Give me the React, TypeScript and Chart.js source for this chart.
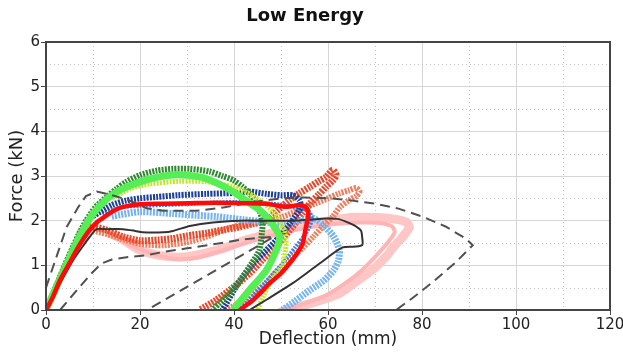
import React, { useEffect, useRef } from "react";
import { Chart, registerables } from "chart.js";

Chart.register(...registerables);

const FONT = "'DejaVu Sans', sans-serif";

// Axis ticks
const xTicks = [0, 20, 40, 60, 80, 100, 120];
const yTicks = [0, 1, 2, 3, 4, 5, 6];
const xMinor = [10, 30, 50, 70, 90, 110];
const yMinor = [0.5, 1.5, 2.5, 3.5, 4.5, 5.5];

// Thick red curve
const redX = [0, 1.5, 3, 5, 6.5, 8, 9.3, 11, 12.9, 14.5, 16.4, 20, 25, 30.6, 36, 41.2, 46.9, 49.5, 50.9, 52.5, 53.8, 55.2, 55.8, 55.7, 55.2, 54.6, 53.3, 51.8, 49.8, 47.6, 45.8, 44, 42.5, 41.2];
const redY = [0, 0.3, 0.67, 1.05, 1.34, 1.6, 1.79, 1.98, 2.12, 2.23, 2.31, 2.37, 2.38, 2.39, 2.4, 2.39, 2.38, 2.33, 2.31, 2.33, 2.35, 2.31, 2.2, 2.05, 1.8, 1.49, 1.25, 1.04, 0.8, 0.6, 0.4, 0.22, 0.1, 0];

// Solid dark curve
const blackX = [0, 1.5, 3, 5.8, 8, 9.3, 10.8, 13, 16.4, 19, 20.5, 25, 27, 30.6, 35.5, 41.2, 46, 52.5, 56, 59.6, 62, 63.8, 65.5, 67, 67.3, 67.3, 66, 63.1, 58.2, 52.5, 46.9, 43.3];
const blackY = [0, 0.3, 0.6, 1.12, 1.45, 1.64, 1.81, 1.81, 1.81, 1.77, 1.74, 1.74, 1.77, 1.88, 1.96, 2.0, 2.0, 2.0, 2.02, 2.05, 2.04, 1.98, 1.9, 1.78, 1.6, 1.46, 1.42, 1.4, 1.04, 0.6, 0.23, 0];

// Dashed corridor (upper)
const upperX = [0, 2, 4.4, 6.9, 8.5, 10.8, 13, 15, 17.5, 21.4, 25, 32, 38, 45, 50, 55, 60.3, 64.5, 70, 75, 80.1, 85, 89.3, 90.8, 87, 82, 78, 74.5];
const upperY = [0.5, 1.12, 1.86, 2.31, 2.55, 2.65, 2.6, 2.54, 2.46, 2.28, 2.22, 2.22, 2.3, 2.43, 2.5, 2.52, 2.5, 2.46, 2.38, 2.27, 2.09, 1.87, 1.6, 1.45, 1.05, 0.6, 0.27, 0];

// Dashed corridor (lower)
const lowerX = [3, 5, 7.2, 9.5, 11.8, 14, 17.8, 21, 25, 30, 35, 41.2, 45, 48.5, 21.5];
const lowerY = [0, 0.25, 0.52, 0.8, 1.04, 1.13, 1.19, 1.22, 1.3, 1.38, 1.46, 1.57, 1.61, 1.64, 0];

// Bright green
const greenX = [0, 3, 6, 7.9, 10, 12.9, 16, 20, 24, 28, 32.7, 36, 39.8, 43, 45.4, 47.5, 49, 49.7, 49.5, 49, 46.9, 43.3, 41.5, 39.8];
const greenY = [0, 0.7, 1.4, 1.79, 2.15, 2.48, 2.7, 2.87, 2.98, 3.03, 2.98, 2.86, 2.65, 2.42, 2.24, 2.02, 1.79, 1.64, 1.5, 1.34, 0.89, 0.45, 0.22, 0];

// Yellow-green
const yellowX = [14, 18, 22, 28.4, 34.1, 39.8, 43, 45.4, 47.8, 49.7, 50.8, 51.1, 50.4, 49, 47.6, 46.2, 45];
const yellowY = [2.5, 2.72, 2.82, 2.88, 2.87, 2.76, 2.62, 2.46, 2.25, 2.01, 1.75, 1.49, 1.04, 0.8, 0.6, 0.3, 0];

// Dark green
const dkGreenX = [0, 4, 7, 8.6, 10.5, 12.9, 15, 17.1, 20, 23.5, 27, 30.6, 34.8, 37.5, 39.8, 41.8, 43.3, 44.6, 45.4, 46.1, 46.0, 45.4, 43.8, 41.9, 39.5, 36.9, 35.5];
const dkGreenY = [0, 1.0, 1.7, 2.01, 2.3, 2.53, 2.71, 2.87, 3.02, 3.12, 3.16, 3.16, 3.1, 3.0, 2.91, 2.76, 2.61, 2.43, 2.24, 1.95, 1.79, 1.34, 1.05, 0.75, 0.42, 0.15, 0];

// Navy
const navyX = [10, 14, 17, 20, 23.5, 28, 34.1, 40, 43.3, 47, 50, 52.5, 53.9, 54.2, 53.9, 52, 49.5, 46.9, 44.2, 41.9, 40, 38.4, 37.5];
const navyY = [2.1, 2.35, 2.45, 2.5, 2.53, 2.57, 2.6, 2.62, 2.65, 2.6, 2.57, 2.57, 2.46, 2.35, 2.24, 1.95, 1.62, 1.34, 1.05, 0.75, 0.45, 0.15, 0];

// Medium blue
const blueX = [12, 16, 20, 25, 30, 35, 40, 45, 50, 53, 56, 56.5, 55.5, 53, 50, 46.5, 43, 41];
const blueY = [2.15, 2.3, 2.33, 2.35, 2.37, 2.4, 2.42, 2.4, 2.36, 2.3, 2.2, 2.0, 1.75, 1.4, 1.0, 0.6, 0.2, 0];

// Light blue
const ltBlueX = [14, 20, 27, 32, 36.2, 42, 46, 50.4, 54, 56.9, 59, 61.2, 62.4, 62.2, 61.2, 59, 56.2, 53, 50.4];
const ltBlueY = [2.1, 2.2, 2.16, 2.12, 2.09, 2.02, 1.98, 1.94, 2.0, 2.05, 1.9, 1.64, 1.34, 1.1, 0.89, 0.65, 0.45, 0.2, 0];

// Red-orange
const orangeX = [7, 9.3, 12.9, 16.4, 20, 24, 27, 30, 34.1, 38, 41.2, 44, 46.9, 49.5, 51.8, 54, 56.2, 58, 59.6, 61, 61.7, 61, 59.6, 58, 56.2, 54.5, 52.5, 49, 46, 43.3, 40, 36.2, 32.7];
const orangeY = [1.7, 1.86, 1.79, 1.64, 1.55, 1.57, 1.6, 1.66, 1.72, 1.8, 1.86, 1.93, 2.01, 2.25, 2.46, 2.62, 2.76, 2.88, 2.98, 3.13, 3.02, 2.9, 2.76, 2.58, 2.39, 2.15, 1.87, 1.43, 1.12, 0.82, 0.52, 0.22, 0];

// Salmon
const salmonX = [10, 13, 16, 20, 25, 30, 34.1, 39.8, 45, 50.4, 54, 57.4, 60, 62.4, 64.5, 66, 66.7, 66, 64.5, 62.5, 61, 59, 56.9, 54.5, 51.8, 49, 46.9, 43.5, 40.5, 38];
const salmonY = [1.78, 1.7, 1.6, 1.48, 1.45, 1.52, 1.64, 1.86, 1.96, 2.09, 2.25, 2.39, 2.5, 2.61, 2.68, 2.73, 2.65, 2.55, 2.46, 2.3, 2.09, 1.88, 1.64, 1.38, 1.12, 0.86, 0.6, 0.35, 0.12, 0];

// Pink (outer loop)
const pinkX = [13, 16.4, 20, 25.6, 30.6, 37.7, 42, 48, 54, 60.3, 65, 70.9, 74.5, 76.6, 77.3, 75.9, 74, 72.3, 70, 67.4, 65, 62.4, 58, 54, 50.5];
const pinkY = [1.75, 1.57, 1.34, 1.2, 1.2, 1.38, 1.55, 1.72, 1.88, 2.0, 2.07, 2.07, 2.03, 1.97, 1.86, 1.64, 1.42, 1.19, 0.95, 0.74, 0.56, 0.37, 0.2, 0.08, 0];

// Pink (inner loop)
const pink2X = [14, 18, 22, 27, 32, 38, 44, 50, 56, 62, 67, 71, 73.5, 74.2, 73, 71, 68.5, 66, 63, 60, 56, 52.5, 49.5];
const pink2Y = [1.68, 1.45, 1.28, 1.15, 1.17, 1.35, 1.55, 1.72, 1.85, 1.93, 1.96, 1.95, 1.88, 1.75, 1.55, 1.3, 1.02, 0.78, 0.55, 0.35, 0.18, 0.06, 0];

const pts = (xs: number[], ys: number[]) => xs.map((x, i) => ({ x, y: ys[i] }));

const frameAndMinor = {
  id: "frameAndMinor",
  beforeDatasetsDraw(chart: any) {
    const { ctx, chartArea: a, scales } = chart;
    const sx = scales.x;
    const sy = scales.y;
    ctx.save();
    ctx.strokeStyle = "#c4c4c4";
    ctx.lineWidth = 1;
    ctx.setLineDash([1, 3]);
    for (const v of xMinor) {
      const px = Math.round(sx.getPixelForValue(v)) + 0.5;
      ctx.beginPath();
      ctx.moveTo(px, a.top);
      ctx.lineTo(px, a.bottom);
      ctx.stroke();
    }
    for (const v of yMinor) {
      const py = Math.round(sy.getPixelForValue(v)) + 0.5;
      ctx.beginPath();
      ctx.moveTo(a.left, py);
      ctx.lineTo(a.right, py);
      ctx.stroke();
    }
    ctx.restore();
  },
  afterDatasetsDraw(chart: any) {
    const { ctx, chartArea: a } = chart;
    ctx.save();
    ctx.strokeStyle = "#444444";
    ctx.lineWidth = 2;
    ctx.setLineDash([]);
    ctx.strokeRect(a.left, a.top, a.right - a.left, a.bottom - a.top);
    ctx.restore();
  },
};

function line(label: string, xs: number[], ys: number[], color: string, width: number, extra: any = {}) {
  return {
    label,
    data: pts(xs, ys),
    showLine: true,
    borderColor: color,
    backgroundColor: color,
    borderWidth: width,
    pointRadius: 0,
    fill: false,
    tension: 0.25,
    clip: 0,
    ...extra,
  };
}

export default function App() {
  const ref = useRef<HTMLCanvasElement>(null);
  useEffect(() => {
    if (!ref.current) return;
    const hatch = { borderDash: [2, 1.2], borderCapStyle: "butt" };
    const chart = new Chart(ref.current, {
      type: "scatter",
      data: {
        datasets: [
          line("Red", redX, redY, "#ff0a0a", 4.5),
          line("Solid", blackX, blackY, "#333333", 2),
          line("Upper", upperX, upperY, "#505050", 2, { borderDash: [10, 6], tension: 0 }),
          line("Lower", lowerX, lowerY, "#505050", 2, { borderDash: [10, 6], tension: 0 }),
          line("Green", greenX, greenY, "#55ee55", 7),
          line("Yellow", yellowX, yellowY, "#c6e82c", 5, hatch),
          line("DarkGreen", dkGreenX, dkGreenY, "#2f8a2f", 6, hatch),
          line("Navy", navyX, navyY, "#1c3f9a", 6, hatch),
          line("Blue", blueX, blueY, "#3d7ee6", 4, hatch),
          line("LightBlue", ltBlueX, ltBlueY, "#74b4f2", 7, hatch),
          line("Orange", orangeX, orangeY, "#e8492d", 7, hatch),
          line("Salmon", salmonX, salmonY, "#ef7d5d", 6, hatch),
          line("Pink2", pink2X, pink2Y, "#ffb5b5", 4),
          line("Pink", pinkX, pinkY, "#ffc6c6", 9),
        ],
      },
      options: {
        animation: false,
        responsive: false,
        events: [],
        layout: { padding: { left: 0, right: 13, top: 0, bottom: 0 } },
        plugins: {
          legend: { display: false },
          tooltip: { enabled: false },
          title: {
            display: true,
            text: "Low Energy",
            color: "#111111",
            font: { family: FONT, size: 18, weight: "bold" },
            padding: { top: 6, bottom: 14.4 },
          },
        },
        scales: {
          x: {
            type: "linear",
            min: 0,
            max: 120,
            afterBuildTicks: (s: any) => {
              s.ticks = xTicks.map((v) => ({ value: v }));
            },
            ticks: { color: "#222222", font: { family: FONT, size: 15 }, padding: 1, maxRotation: 0, autoSkip: false },
            grid: { color: "#d6d6d6", lineWidth: 1, tickColor: "#444444", tickLength: 5, drawTicks: true },
            border: { display: false },
            title: {
              display: true,
              text: "Deflection (mm)",
              color: "#222222",
              font: { family: FONT, size: 17 },
              padding: { top: 0, bottom: 3 },
            },
            afterFit: (s: any) => {
              s.height = 43;
              s.paddingLeft = 0;
              s.paddingRight = 0;
            },
          },
          y: {
            type: "linear",
            min: 0,
            max: 6,
            afterBuildTicks: (s: any) => {
              s.ticks = yTicks.map((v) => ({ value: v }));
            },
            ticks: { color: "#222222", font: { family: FONT, size: 15 }, padding: 1, autoSkip: false },
            grid: { color: "#d6d6d6", lineWidth: 1, tickColor: "#444444", tickLength: 5, drawTicks: true },
            border: { display: false },
            title: {
              display: true,
              text: "Force (kN)",
              color: "#222222",
              font: { family: FONT, size: 18 },
              padding: { top: 7, bottom: 0 },
            },
            afterFit: (s: any) => {
              s.width = 46;
              s.paddingTop = 0;
              s.paddingBottom = 0;
            },
          },
        },
      },
      plugins: [frameAndMinor],
    } as any);
    return () => chart.destroy();
  }, []);
  return (
    <div style={{ position: "fixed", left: 0, top: 0, width: 623, height: 353, background: "#ffffff" }}>
      <canvas ref={ref} width={623} height={353} style={{ display: "block" }} />
    </div>
  );
}
